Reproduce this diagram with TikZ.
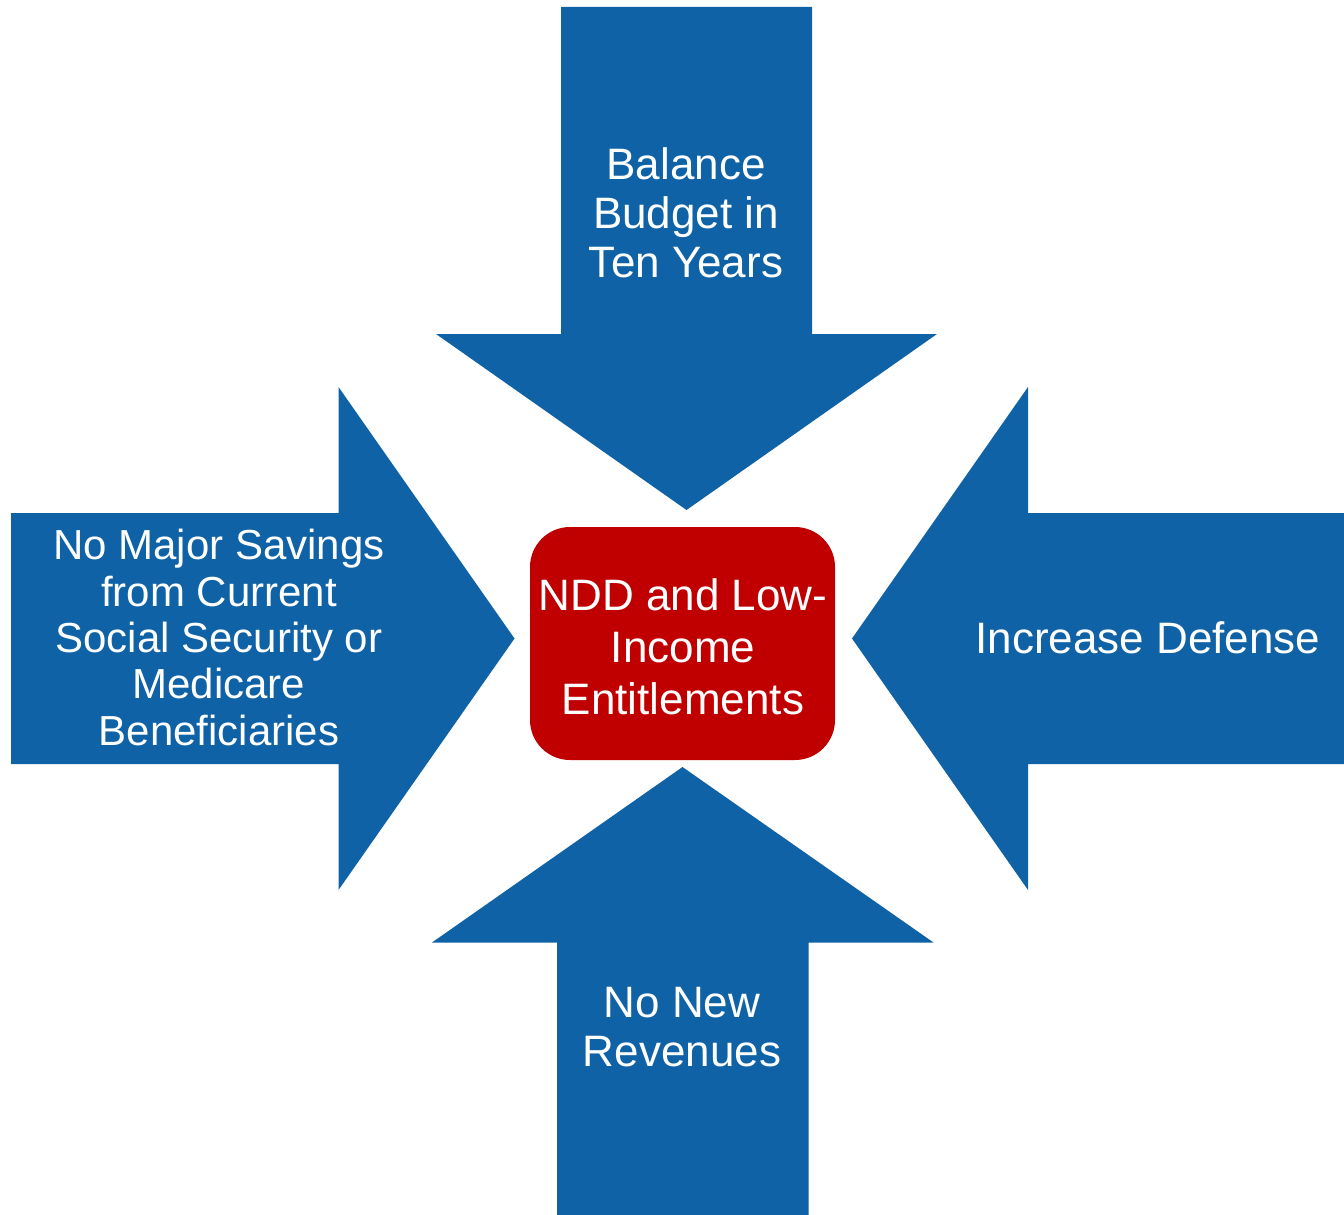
\documentclass[tikz,border=0pt]{standalone}
\usepackage{fontspec}
\setmainfont{Liberation Sans}
\definecolor{arrowblue}{RGB}{14,98,165}
\definecolor{boxred}{RGB}{192,0,0}
\tikzset{
  arrowshape/.style={fill=arrowblue, draw=none},
  arrowtext/.style={text=white, align=center, inner sep=0pt, font=\fontsize{44}{49}\selectfont},
  centerbox/.style={fill=boxred, draw=none, rounded corners=40pt, minimum width=305pt, minimum height=233pt, inner sep=0pt},
  centertext/.style={text=white, align=center, inner sep=0pt, font=\fontsize{44}{52}\selectfont}
}
\begin{document}
\begin{tikzpicture}[x=1pt,y=-1pt]
\useasboundingbox (0,0) rectangle (1344,1215);
% top arrow (down)
\fill[arrowshape] (561,7) -- (812,7) -- (812,334) -- (937,334) -- (686.5,510) -- (436,334) -- (561,334) -- cycle;
% bottom arrow (up)
\fill[arrowshape] (557,1215) -- (808.5,1215) -- (808.5,942.5) -- (933.5,942.5) -- (682.5,767) -- (432,942.5) -- (557,942.5) -- cycle;
% left arrow (right)
\fill[arrowshape] (11,513) -- (338.5,513) -- (338.5,387) -- (514.5,638.5) -- (338.5,890) -- (338.5,764) -- (11,764) -- cycle;
% right arrow (left)
\fill[arrowshape] (1344,513) -- (1028,513) -- (1028,387) -- (852,638.5) -- (1028,890) -- (1028,764) -- (1344,764) -- cycle;
% centre box
\node[centerbox] (core) at (682.5,643.5) {};
\node[centertext] (coretext) at (683,647) {NDD and Low-\\Income\\Entitlements};
% labels
\node[arrowtext] (top) at (686,213) {Balance\\Budget in\\Ten Years};
\node[arrowtext, font=\fontsize{42}{46.3}\selectfont] (left) at (219,637.5) {No Major Savings\\from Current\\Social Security or\\Medicare\\Beneficiaries};
\node[arrowtext] (right) at (1148,638) {Increase Defense};
\node[arrowtext] (bottom) at (682,1027) {No New\\Revenues};
\end{tikzpicture}
\end{document}
